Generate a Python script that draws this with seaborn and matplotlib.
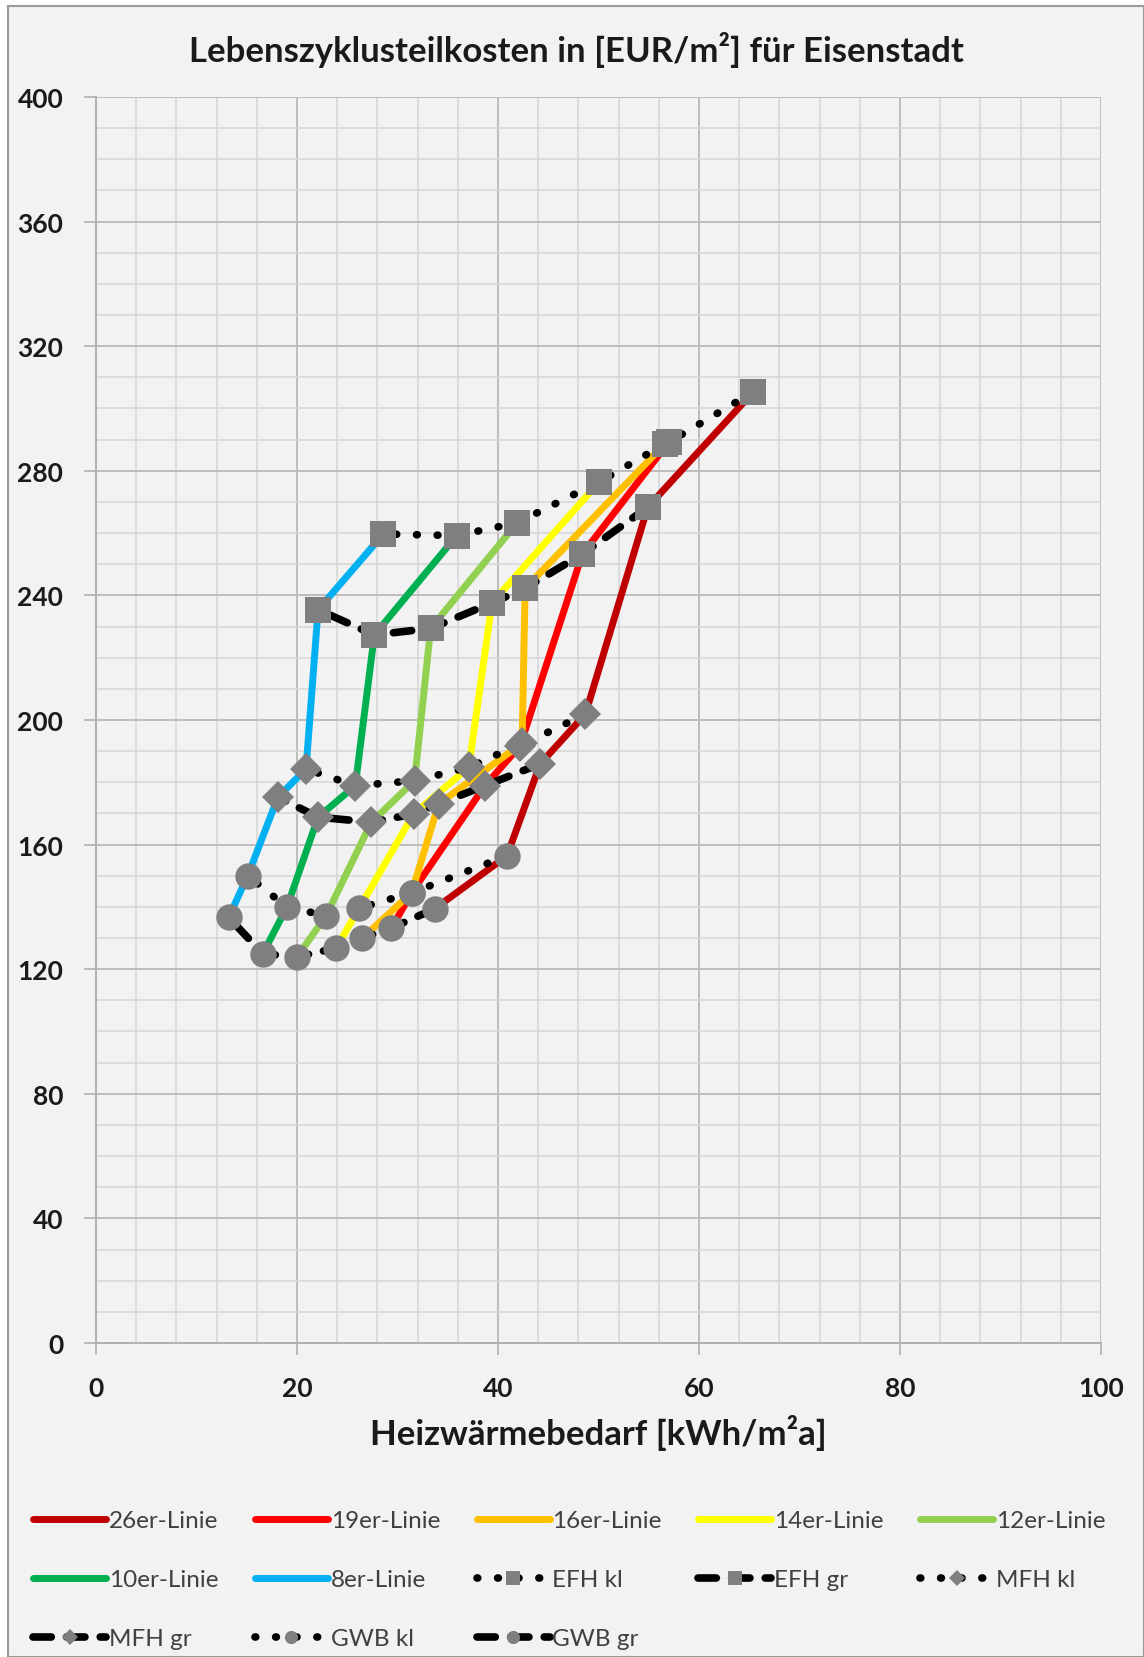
import matplotlib
matplotlib.use("Agg")
import matplotlib.pyplot as plt
from matplotlib.patches import Rectangle
from matplotlib.ticker import MultipleLocator
import seaborn as sns

# order of the coloured lines
linien = ["26er-Linie", "19er-Linie", "16er-Linie", "14er-Linie",
          "12er-Linie", "10er-Linie", "8er-Linie"]
farben = ["#C00000", "#FF0000", "#FFC000", "#FFFF00",
          "#92D050", "#00B050", "#00B0F0"]

# one value per line (26er ... 8er) for each building type
gwb_gr_x = [33.7, 29.4, 26.5, 23.9, 20.0, 16.6, 13.2]
gwb_gr_y = [139.4, 133.2, 130.0, 126.8, 123.9, 125.0, 136.6]
gwb_kl_x = [40.9, 31.4, 31.4, 26.2, 22.9, 19.0, 15.1]
gwb_kl_y = [156.4, 144.5, 144.5, 139.6, 137.2, 139.9, 150.0]
mfh_gr_x = [44.2, 38.7, 34.1, 31.6, 27.4, 22.1, 18.1]
mfh_gr_y = [185.9, 178.9, 173.1, 169.8, 167.2, 168.8, 175.2]
mfh_kl_x = [48.7, 42.2, 42.4, 37.1, 31.7, 25.8, 20.9]
mfh_kl_y = [201.9, 191.7, 192.5, 184.8, 180.5, 178.9, 184.3]
efh_gr_x = [54.9, 48.4, 42.7, 39.4, 33.3, 27.7, 22.1]
efh_gr_y = [268.3, 253.3, 242.3, 237.6, 229.4, 227.3, 235.4]
efh_kl_x = [65.4, 57.0, 56.6, 50.1, 41.9, 35.9, 28.6]
efh_kl_y = [305.3, 289.2, 288.6, 276.5, 263.3, 259.2, 259.7]

# path of each coloured line: GWB gr -> GWB kl -> MFH gr -> MFH kl -> EFH gr -> EFH kl
pfad_x = [gwb_gr_x, gwb_kl_x, mfh_gr_x, mfh_kl_x, efh_gr_x, efh_kl_x]
pfad_y = [gwb_gr_y, gwb_kl_y, mfh_gr_y, mfh_kl_y, efh_gr_y, efh_kl_y]

typen = ["EFH kl", "EFH gr", "MFH kl", "MFH gr", "GWB kl", "GWB gr"]
typen_x = [efh_kl_x, efh_gr_x, mfh_kl_x, mfh_gr_x, gwb_kl_x, gwb_gr_x]
typen_y = [efh_kl_y, efh_gr_y, mfh_kl_y, mfh_gr_y, gwb_kl_y, gwb_gr_y]
typen_marker = ["s", "s", "D", "D", "o", "o"]
typen_ms = [19, 19, 16, 16, 19, 19]
typen_ls = ["dot", "dash", "dot", "dash", "dot", "dash"]

bg = "#f2f2f2"
grau = "#7f7f7f"
font = ["Lato", "DejaVu Sans"]

sns.set_theme(style="white")
plt.rcParams["font.family"] = font

fig = plt.figure(figsize=(11.44, 16.58), dpi=100)
fig.patch.set_facecolor("white")
fig.patches.append(Rectangle((0.007, 0.0), 0.993, 0.996, transform=fig.transFigure,
                             facecolor=bg, edgecolor="#9a9a9a", lw=1.5, zorder=-10))

ax = fig.add_axes([0.0839, 0.1894, 0.8785, 0.7515])
ax.set_facecolor(bg)

# coloured lines
for i, name in enumerate(linien):
    xs = [p[i] for p in pfad_x]
    ys = [p[i] for p in pfad_y]
    sns.lineplot(x=xs, y=ys, sort=False, estimator=None, color=farben[i], lw=5,
                 solid_capstyle="round", label=name, ax=ax, zorder=3)

# black connecting series with grey markers
for name, xs, ys, m, ms, ls in zip(typen, typen_x, typen_y, typen_marker, typen_ms, typen_ls):
    if ls == "dot":
        style = (0, (0.1, 2.6))
    else:
        style = (0, (2.4, 2.0))
    sns.lineplot(x=xs, y=ys, sort=False, estimator=None, color="black", lw=5.5,
                 linestyle=style, dash_capstyle="round", marker=m, markersize=ms,
                 markerfacecolor=grau, markeredgecolor=grau, markeredgewidth=0,
                 label=name, ax=ax, zorder=4)

if ax.get_legend() is not None:
    ax.get_legend().remove()

ax.set_xlim(0, 100)
ax.set_ylim(0, 400)
ax.xaxis.set_major_locator(MultipleLocator(20))
ax.xaxis.set_minor_locator(MultipleLocator(4))
ax.yaxis.set_major_locator(MultipleLocator(40))
ax.yaxis.set_minor_locator(MultipleLocator(10))
ax.grid(which="major", color="#bdbdbd", lw=1.4, zorder=0)
ax.grid(which="minor", color="#d6d6d6", lw=1.1, zorder=0)
ax.set_axisbelow(True)
for s in ["top", "right"]:
    ax.spines[s].set_visible(False)
for s in ["left", "bottom"]:
    ax.spines[s].set_color("#b0b0b0")
    ax.spines[s].set_linewidth(1.4)
ax.tick_params(which="major", length=8.5, width=1.2, color="#b0b0b0",
               labelsize=19, labelcolor="#1a1a1a")
ax.tick_params(axis="y", which="major", pad=15, left=True)
ax.tick_params(axis="x", which="major", pad=15, bottom=True)
ax.tick_params(which="minor", length=0)
for lab in ax.get_xticklabels() + ax.get_yticklabels():
    lab.set_fontweight("bold")

ax.set_xlabel("Heizwärmebedarf [kWh/m²a]", fontsize=25, fontweight="bold",
              color="#1a1a1a", labelpad=10)
ax.set_ylabel("")
fig.text(0.504, 0.970, "Lebenszyklusteilkosten in [EUR/m²] für Eisenstadt",
         ha="center", va="center", fontsize=25, fontweight="bold", color="#1a1a1a")

handles, labels = ax.get_legend_handles_labels()
order = [0, 5, 10, 1, 6, 11, 2, 7, 12, 3, 8, 4, 9]
leg = fig.legend([handles[k] for k in order], [labels[k] for k in order],
                 ncol=5, loc="upper left", bbox_to_anchor=(0.029, 0.0885),
                 frameon=False, fontsize=17.5, handlelength=3.0, handletextpad=0.12,
                 columnspacing=1.5, labelspacing=1.56, markerscale=0.5,
                 borderpad=0, borderaxespad=0)
for t in leg.get_texts():
    t.set_color("#404040")

fig.savefig("out.png", dpi=100, facecolor=fig.get_facecolor())
